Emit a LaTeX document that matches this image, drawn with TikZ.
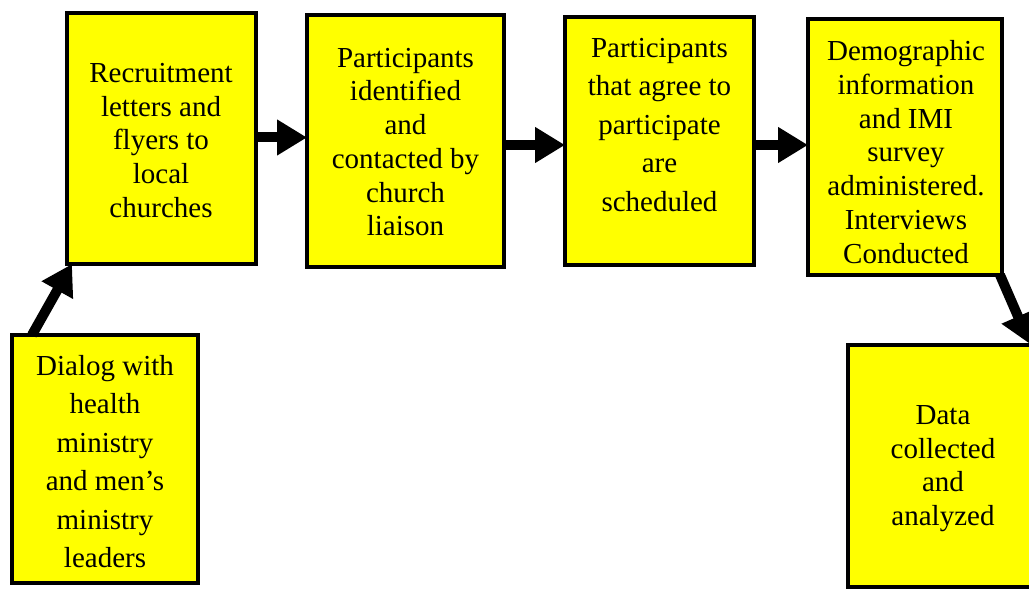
\documentclass[tikz,border=0pt]{standalone}
\usepackage{fontspec}
\setmainfont{Liberation Serif}
\usetikzlibrary{arrows.meta}
\definecolor{boxyellow}{RGB}{255,255,0}
\tikzset{
  box/.style={draw=black, line width=4.5bp, fill=boxyellow, rectangle, inner sep=0pt, outer sep=0pt},
  txt/.style={align=center, inner sep=0pt, font=\fontsize{29bp}{33.7bp}\selectfont},
  txtwide/.style={align=center, inner sep=0pt, font=\fontsize{29bp}{38.5bp}\selectfont},
  arr/.style={line width=10bp, draw=black, -{Triangle[length=30bp,width=34bp]}},
}
\begin{document}
\begin{tikzpicture}[x=1bp,y=-1bp]
\useasboundingbox (0,0) rectangle (1029,589);
\clip (0,0) rectangle (1029,589);
% boxes
\node[box, minimum width=189bp, minimum height=251bp] (b1) at (161.5,138.5) {};
\node[box, minimum width=197bp, minimum height=252bp] (b2) at (405.5,141) {};
\node[box, minimum width=189bp, minimum height=248bp] (b3) at (659.5,141) {};
\node[box, minimum width=194bp, minimum height=256bp] (b4) at (905,147) {};
\node[box, minimum width=186bp, minimum height=248bp] (b5) at (105,459) {};
\node[box, minimum width=192bp, minimum height=242bp] (b6) at (944,466) {};
% texts
\node[txt] (t1) at (161,140.5) {Recruitment\\letters and\\flyers to\\local\\churches};
\node[txt] (t2) at (405.5,142) {Participants\\identified\\and\\contacted by\\church\\liaison};
\node[txtwide] (t3) at (659.5,125) {Participants\\that agree to\\participate\\are\\scheduled};
\node[txt] (t4) at (906,152) {Demographic\\information\\and IMI\\survey\\administered.\\Interviews\\Conducted};
\node[txtwide] (t5) at (105,461.5) {Dialog with\\health\\ministry\\and men’s\\ministry\\leaders};
\node[txt] (t6) at (943,468.5) {Data\\collected\\and\\analyzed};
% arrows
\draw[arr] ([yshift=1bp]b1.east) -- ([yshift=1bp]b1.east -| b2.west);
\draw[arr] ([yshift=-4bp]b2.east) -- ([yshift=-4bp]b2.east -| b3.west);
\draw[arr] ([yshift=-4bp]b3.east) -- ([yshift=-4bp]b3.east -| b4.west);
\draw[arr] ([xshift=20bp]b5.north west) -- ([xshift=5bp]b1.south west);
\draw[arr] ([xshift=-2bp]b4.south east) -- ([xshift=-10bp,yshift=1bp]b6.north east);
\end{tikzpicture}
\end{document}
